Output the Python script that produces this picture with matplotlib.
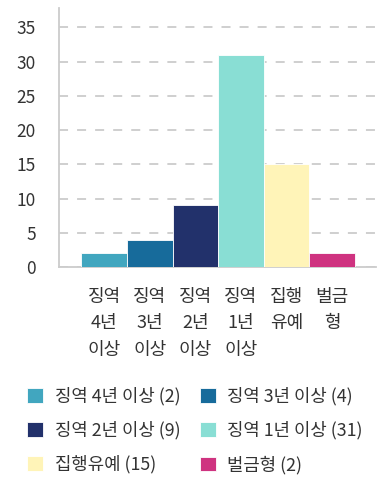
import matplotlib
matplotlib.use("Agg")
import matplotlib.pyplot as plt
from matplotlib.patches import Patch

plt.rcParams['font.family'] = ['Noto Sans CJK KR', 'DejaVu Sans']

categories = ["징역\n4년\n이상", "징역\n3년\n이상", "징역\n2년\n이상",
              "징역\n1년\n이상", "집행\n유예", "벌금\n형"]
legend_names = ["징역 4년 이상", "징역 3년 이상", "징역 2년 이상",
                "징역 1년 이상", "집행유예", "벌금형"]
values = [2, 4, 9, 31, 15, 2]
colors = ["#41a6bf", "#176b9b", "#22316b", "#89ded4", "#fff4b8", "#cf3380"]
yticks = [0, 5, 10, 15, 20, 25, 30, 35]

text_color = "#333333"

fig = plt.figure(figsize=(3.88, 4.82), dpi=100)
ax = fig.add_axes([0.152, 0.446, 0.817, 0.537])

x = list(range(len(values)))
ax.bar(x, values, width=1.0, color=colors, edgecolor="white", linewidth=0.6, zorder=3)

ax.set_xlim(-0.99, 5.96)
ax.set_ylim(0, 37.8)
ax.set_yticks(yticks)
ax.set_xticks(x)
ax.set_xticklabels(categories, linespacing=1.6)
ax.tick_params(axis="both", length=0, colors=text_color)
ax.tick_params(axis="y", pad=16.5, labelsize=12.5)
ax.tick_params(axis="x", pad=15, labelsize=13)
for lab in ax.get_yticklabels():
    lab.set_horizontalalignment("right")

ax.yaxis.grid(True, linestyle=(0, (5, 5)), color="#cccccc", linewidth=1.3, zorder=0)
for s in ["top", "right"]:
    ax.spines[s].set_visible(False)
for s in ["left", "bottom"]:
    ax.spines[s].set_color("#cccccc")
    ax.spines[s].set_linewidth(1.3)

# legend laid out row by row (matplotlib fills columns first)
order = [0, 2, 4, 1, 3, 5]
handles = [Patch(facecolor=colors[i], edgecolor="white", linewidth=0.6) for i in order]
labels = [f"{legend_names[i]} ({values[i]})" for i in order]
fig.legend(handles, labels, ncol=2, loc="upper left", bbox_to_anchor=(0.07, 0.197),
           frameon=False, fontsize=12.8, handlelength=0.9, handleheight=0.9,
           handletextpad=0.65, columnspacing=1.1, labelspacing=0.88,
           borderpad=0, borderaxespad=0, labelcolor=text_color)

fig.savefig("out.png", dpi=100)
